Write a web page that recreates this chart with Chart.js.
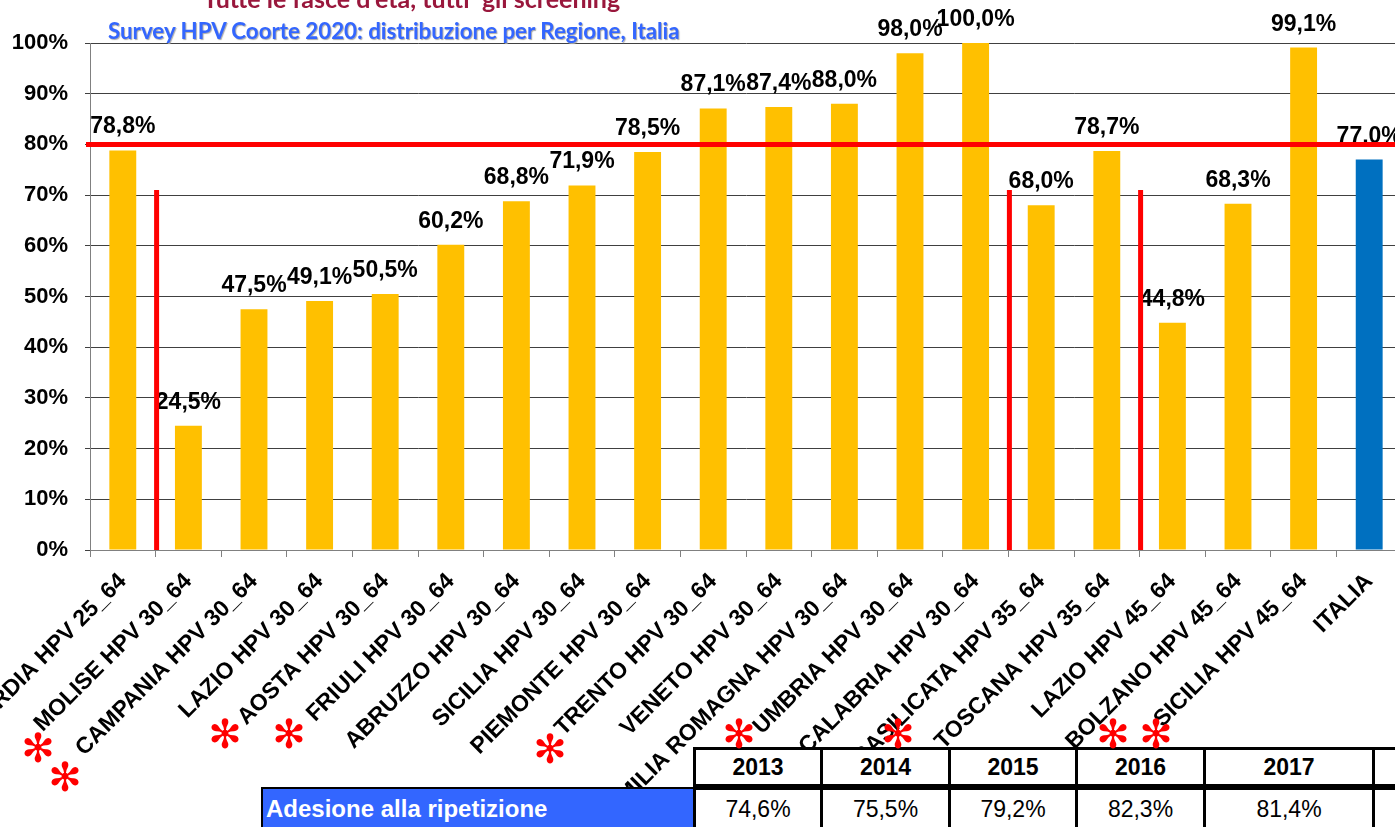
<!DOCTYPE html>
<html>
<head>
<meta charset="utf-8">
<script src="https://cdn.jsdelivr.net/npm/chart.js@4.4.1/dist/chart.umd.min.js"></script>
<style>
  html, body { margin: 0; padding: 0; background: #fff; }
  body { width: 1395px; height: 827px; overflow: hidden; position: relative; }
  #wrap { position: absolute; left: 0; top: 0; }
  .title {
    position: absolute; left: 203px; top: -17px; white-space: pre;
    font: bold 25px Lato, "Open Sans", sans-serif; color: #99173C;
  }
  .subtitle {
    position: absolute; left: 108px; top: 17px; white-space: pre;
    font: bold 22.3px Lato, "Open Sans", sans-serif; color: #3366FF;
    text-shadow: 1px 1px 1px #aaa;
  }
  .star {
    position: absolute; color: #FF0000; font: 40px "DejaVu Sans", sans-serif;
    line-height: 1; transform: translate(-50%, -50%);
  }
  .cell {
    position: absolute; box-sizing: border-box; border: 3px solid #000; background: #fff;
    display: flex; align-items: center; justify-content: center;
    font-family: "Liberation Sans", Arial, sans-serif; font-size: 23px; color: #000;
  }
  .cell.head { font-weight: bold; }
  .cell.lab {
    background: #3366FF; color: #fff; font-weight: bold; font-size: 24px;
    justify-content: flex-start; padding-left: 3px; border-width: 2px;
  }
</style>
</head>
<body>
<div id="wrap"><canvas id="chart" width="1410" height="827"></canvas></div>
<div class="title">Tutte le fasce d'età, tutti  gli screening</div>
<div class="subtitle">Survey HPV Coorte 2020: distribuzione per Regione, Italia</div>
<div id="tbl"></div>
<div id="stars"></div>
<script>
// chart data
const regions = [
  'LOMBARDIA HPV 25_64', 'MOLISE HPV 30_64', 'CAMPANIA HPV 30_64', 'LAZIO HPV 30_64',
  'AOSTA HPV 30_64', 'FRIULI HPV 30_64', 'ABRUZZO HPV 30_64', 'SICILIA HPV 30_64',
  'PIEMONTE HPV 30_64', 'TRENTO HPV 30_64', 'VENETO HPV 30_64', 'EMILIA ROMAGNA HPV 30_64',
  'UMBRIA HPV 30_64', 'CALABRIA HPV 30_64', 'BASILICATA HPV 35_64', 'TOSCANA HPV 35_64',
  'LAZIO HPV 45_64', 'BOLZANO HPV 45_64', 'SICILIA HPV 45_64', 'ITALIA'
];
const adesione = [78.8, 24.5, 47.5, 49.1, 50.5, 60.2, 68.8, 71.9, 78.5, 87.1,
                  87.4, 88.0, 98.0, 100.0, 68.0, 78.7, 44.8, 68.3, 99.1, 77.0];
const yTicks = [0, 10, 20, 30, 40, 50, 60, 70, 80, 90, 100];
const target = 80;          // red horizontal line
const dividerTop = 71;      // height of the red vertical dividers
const dividerAfter = [0, 13, 15];

// table below the chart
const years = ['2013', '2014', '2015', '2016', '2017', ''];
const ripetizione = ['74,6%', '75,5%', '79,2%', '82,3%', '81,4%', ''];

const fmt = v => v.toFixed(1).replace('.', ',') + '%';
const barColors = regions.map(r => r === 'ITALIA' ? '#0070C0' : '#FFC000');
const FONT = '"Liberation Sans", Arial, sans-serif';

const valueLabels = {
  id: 'valueLabels',
  afterDatasetsDraw(chart) {
    const ctx = chart.ctx;
    ctx.save();
    ctx.font = 'bold 23px ' + FONT;
    ctx.fillStyle = '#000';
    ctx.textAlign = 'center';
    chart.getDatasetMeta(0).data.forEach((bar, i) => {
      ctx.fillText(fmt(adesione[i]), bar.x, bar.y - 17);
    });
    ctx.restore();
  }
};

const redLines = {
  id: 'redLines',
  afterDraw(chart) {
    const { ctx, chartArea, scales: { x, y } } = chart;
    ctx.save();
    ctx.strokeStyle = '#FF0000';
    ctx.lineWidth = 5;
    const yt = y.getPixelForValue(target);
    ctx.beginPath();
    ctx.moveTo(chartArea.left - 4, yt);
    ctx.lineTo(chartArea.right + 10, yt);
    ctx.stroke();
    dividerAfter.forEach(i => {
      const xp = (x.getPixelForValue(i) + x.getPixelForValue(i + 1)) / 2 + 1;
      ctx.beginPath();
      ctx.moveTo(xp, y.getPixelForValue(0));
      ctx.lineTo(xp, y.getPixelForValue(dividerTop));
      ctx.stroke();
    });
    ctx.restore();
  }
};

new Chart(document.getElementById('chart').getContext('2d'), {
  type: 'bar',
  data: {
    labels: regions,
    datasets: [{
      data: adesione,
      backgroundColor: barColors,
      categoryPercentage: 1,
      barPercentage: 0.41
    }]
  },
  options: {
    responsive: false,
    animation: false,
    devicePixelRatio: 1,
    layout: { padding: { top: 43, right: 8, left: 0, bottom: 0 } },
    plugins: { legend: { display: false }, tooltip: { enabled: false } },
    scales: {
      x: {
        ticks: {
          autoSkip: false, minRotation: 45, maxRotation: 45, padding: 11,
          color: '#000', font: { family: FONT, size: 23, weight: 'bold' }
        },
        grid: { drawOnChartArea: false, tickLength: 7, color: '#808080' },
        border: { color: '#808080' },
        afterFit: axis => { axis.height = 277; axis.paddingLeft = 0; axis.paddingRight = 0; }
      },
      y: {
        min: 0, max: 100,
        afterBuildTicks: axis => { axis.ticks = yTicks.map(v => ({ value: v })); },
        ticks: {
          padding: 17, color: '#000', callback: v => v + '%',
          font: { family: FONT, size: 22, weight: 'bold' }
        },
        grid: { color: '#404040', tickLength: 5 },
        border: { color: '#808080' },
        afterFit: axis => { axis.width = 90; }
      }
    }
  },
  plugins: [valueLabels, redLines]
});

// table cells (column edges in px)
const colEdges = [695, 822, 950, 1077, 1205, 1374, 1450];
const cell = (cls, l, r, t, h, txt) =>
  `<div class="cell ${cls}" style="left:${l - 2}px; width:${r - l + 3}px; top:${t}px; height:${h}px">${txt}</div>`;
let html = '';
years.forEach((yr, i) => { html += cell('head', colEdges[i], colEdges[i + 1], 747, 40, yr); });
html += cell('lab', 263, 695, 787, 44, 'Adesione alla ripetizione');
ripetizione.forEach((v, i) => { html += cell('', colEdges[i], colEdges[i + 1], 787, 44, v); });
document.getElementById('tbl').innerHTML = html;

// red asterisks next to the labels
const starSpots = [[38, 748], [65, 777], [225, 734], [289, 734], [550, 749],
                   [739, 734], [898, 734], [1113, 734], [1156, 734]];
document.getElementById('stars').innerHTML = starSpots
  .map(([l, t]) => `<span class="star" style="left:${l}px; top:${t}px">✻</span>`).join('');
</script>
</body>
</html>
